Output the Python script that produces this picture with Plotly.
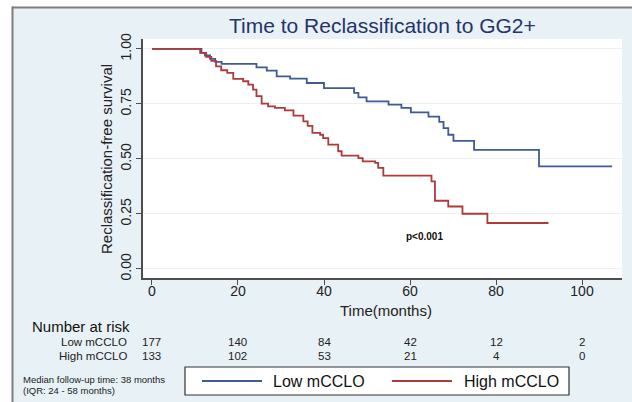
import plotly.graph_objects as go

# Kaplan-Meier step curves (months, survival probability)
low_time = [0, 11.5, 12.3, 13.5, 14.7, 16.2, 24.3, 26.7, 29.0, 32.1, 36.0, 40.0,
            47.0, 48.0, 49.9, 55.0, 58.0, 60.2, 64.3, 66.8, 67.8, 68.9, 70.1,
            74.9, 90.0, 107.0]
low_surv = [1.0, 0.982, 0.970, 0.955, 0.941, 0.932, 0.916, 0.901, 0.875, 0.865,
            0.845, 0.822, 0.800, 0.780, 0.762, 0.747, 0.732, 0.712, 0.692, 0.668,
            0.640, 0.610, 0.582, 0.541, 0.466, 0.466]

high_time = [0, 11.2, 12.6, 13.8, 14.9, 16.1, 17.5, 18.9, 21.2, 22.4, 23.5, 24.3,
             25.5, 27.0, 28.6, 30.9, 32.9, 35.2, 36.2, 37.3, 39.1, 39.8, 41.0,
             43.3, 44.1, 48.0, 49.0, 51.9, 52.6, 53.8, 65.0, 65.8, 68.9, 72.2,
             78.0, 92.2]
high_surv = [1.0, 0.982, 0.964, 0.946, 0.921, 0.903, 0.891, 0.864, 0.853, 0.838,
             0.815, 0.785, 0.751, 0.739, 0.732, 0.721, 0.697, 0.671, 0.650, 0.618,
             0.610, 0.595, 0.565, 0.535, 0.515, 0.504, 0.489, 0.482, 0.459, 0.424,
             0.398, 0.310, 0.284, 0.251, 0.209, 0.209]

# Number-at-risk table
risk_times = [0, 20, 40, 60, 80, 100]
risk_low = [177, 140, 84, 42, 12, 2]
risk_high = [133, 102, 53, 21, 4, 0]

group_names = ["Low mCCLO", "High mCCLO"]
x_ticks = [0, 20, 40, 60, 80, 100]
y_ticks = [0, 0.25, 0.5, 0.75, 1.0]
y_tick_text = ["0.00", "0.25", "0.50", "0.75", "1.00"]

BLUE = "#3f5b92"
RED = "#ad3b3b"
FONT = "Liberation Sans, Arial, sans-serif"

W, H = 632, 402
ML, MR, MT, MB = 143, 10, 39, 124
PW, PH = W - ML - MR, H - MT - MB


def fx(px):
    """Pixel column -> paper x."""
    return (px - ML) / PW


def fy(py):
    """Pixel row (from top) -> paper y."""
    return (H - MB - py) / PH


fig = go.Figure()
fig.add_trace(go.Scatter(x=low_time, y=low_surv, mode="lines", line_shape="hv",
                         line=dict(color=BLUE, width=1.8), name=group_names[0],
                         showlegend=False))
fig.add_trace(go.Scatter(x=high_time, y=high_surv, mode="lines", line_shape="hv",
                         line=dict(color=RED, width=1.8), name=group_names[1],
                         showlegend=False))

ann = []
# title and axis titles
ann.append(dict(text="Time to Reclassification to GG2+", x=fx(382), y=fy(26),
                xref="paper", yref="paper", showarrow=False, xanchor="center",
                yanchor="middle", font=dict(family=FONT, size=21, color="#24346a")))
ann.append(dict(text="Reclassification-free survival", x=fx(106), y=fy(159),
                xref="paper", yref="paper", showarrow=False, textangle=-90,
                xanchor="center", yanchor="middle",
                font=dict(family=FONT, size=15, color="#222")))
ann.append(dict(text="Time(months)", x=fx(386), y=fy(310), xref="paper", yref="paper",
                showarrow=False, xanchor="center", yanchor="middle",
                font=dict(family=FONT, size=15, color="#222")))
ann.append(dict(text="<b>p<0.001</b>", x=63.3, y=0.148, xref="x", yref="y",
                showarrow=False, font=dict(family=FONT, size=10, color="#111"),
                xanchor="center", yanchor="middle"))

# number at risk
ann.append(dict(text="Number at risk", x=fx(30), y=fy(326), xref="paper", yref="paper",
                showarrow=False, xanchor="left", yanchor="middle",
                font=dict(family=FONT, size=15, color="#111")))
for name, counts, row_y in [(group_names[0], risk_low, 342), (group_names[1], risk_high, 356)]:
    ann.append(dict(text=name, x=fx(129), y=fy(row_y), xref="paper", yref="paper",
                    showarrow=False, xanchor="right", yanchor="middle",
                    font=dict(family=FONT, size=11.5, color="#222")))
    for t, c in zip(risk_times, counts):
        ann.append(dict(text=str(c), x=t, y=fy(row_y), xref="x", yref="paper",
                        showarrow=False, xanchor="center", yanchor="middle",
                        font=dict(family=FONT, size=11.5, color="#222")))

# follow-up note
ann.append(dict(text="Median follow-up time: 38 months", x=fx(21), y=fy(379),
                xref="paper", yref="paper", showarrow=False, xanchor="left",
                yanchor="middle", font=dict(family=FONT, size=9.5, color="#222")))
ann.append(dict(text="(IQR: 24 - 58 months)", x=fx(21), y=fy(390),
                xref="paper", yref="paper", showarrow=False, xanchor="left",
                yanchor="middle", font=dict(family=FONT, size=9.5, color="#222")))

# legend labels
ann.append(dict(text=group_names[0], x=fx(271), y=fy(381), xref="paper", yref="paper",
                showarrow=False, xanchor="left", yanchor="middle",
                font=dict(family=FONT, size=16, color="#111")))
ann.append(dict(text=group_names[1], x=fx(462), y=fy(381), xref="paper", yref="paper",
                showarrow=False, xanchor="left", yanchor="middle",
                font=dict(family=FONT, size=16, color="#111")))

shapes = [
    # white margin outside the framed panel
    dict(type="rect", xref="paper", yref="paper", x0=fx(-5), x1=fx(12), y0=fy(H + 5),
         y1=fy(-5), fillcolor="white", line=dict(width=0)),
    dict(type="rect", xref="paper", yref="paper", x0=fx(-5), x1=fx(W + 5), y0=fy(7),
         y1=fy(-5), fillcolor="white", line=dict(width=0)),
    dict(type="line", xref="paper", yref="paper", x0=fx(12.5), x1=fx(12.5), y0=fy(H + 5),
         y1=fy(6.5), line=dict(color="#7d7d7d", width=2)),
    dict(type="line", xref="paper", yref="paper", x0=fx(12), x1=fx(W + 5), y0=fy(7.5),
         y1=fy(7.5), line=dict(color="#7d7d7d", width=2)),
    # legend box and keys
    dict(type="rect", xref="paper", yref="paper", x0=fx(185), x1=fx(569), y0=fy(395),
         y1=fy(367), fillcolor="white", line=dict(color="#333", width=1.2)),
    dict(type="line", xref="paper", yref="paper", x0=fx(202), x1=fx(262), y0=fy(381),
         y1=fy(381), line=dict(color=BLUE, width=1.8)),
    dict(type="line", xref="paper", yref="paper", x0=fx(392), x1=fx(452), y0=fy(381),
         y1=fy(381), line=dict(color=RED, width=1.8)),
]

fig.update_layout(
    width=W, height=H,
    margin=dict(l=ML, r=MR, t=MT, b=MB, pad=0),
    paper_bgcolor="#e8f1f5",
    plot_bgcolor="white",
    font=dict(family=FONT, color="#222"),
    annotations=ann,
    shapes=shapes,
    showlegend=False,
    xaxis=dict(range=[-2.09, 109.3], tickvals=x_ticks, ticks="outside", ticklen=5,
               tickwidth=1.3, tickcolor="#4d4d4d", showline=True, linecolor="#4d4d4d",
               linewidth=1.5, showgrid=False, zeroline=False, ticklabelstandoff=-6,
               tickfont=dict(family=FONT, size=14, color="#222")),
    yaxis=dict(range=[-0.041, 1.045], tickvals=y_ticks, ticktext=y_tick_text,
               tickangle=-90, ticks="outside", ticklen=5, tickwidth=1.3,
               tickcolor="#4d4d4d", showline=True, linecolor="#4d4d4d", linewidth=1.5,
               showgrid=True, gridcolor="#e9f1f6", gridwidth=1, zeroline=False,
               tickfont=dict(family=FONT, size=14, color="#222")),
)

fig.write_html("out.html")
